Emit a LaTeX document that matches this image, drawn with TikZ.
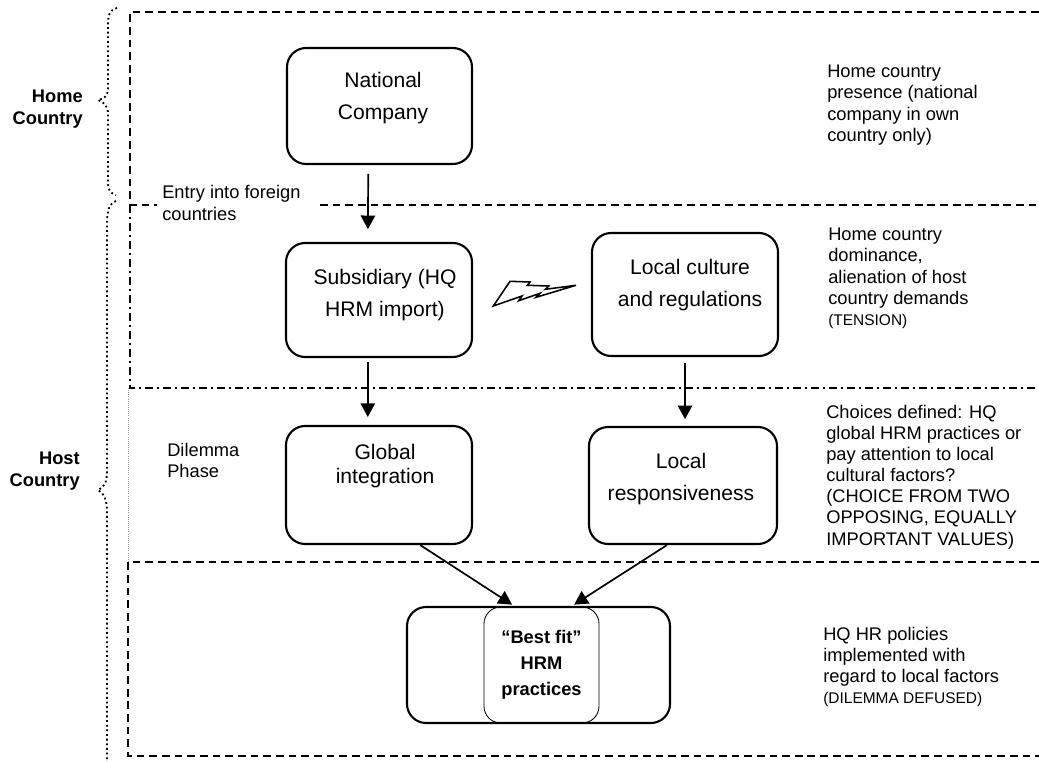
\documentclass[tikz,border=0pt]{standalone}
\usepackage{fontspec}
\setmainfont{Liberation Sans}
\usepackage{tikz}
\usetikzlibrary{arrows.meta,calc,positioning}
\definecolor{Ink}{HTML}{000000}
\definecolor{Faint}{HTML}{9A9A9A}
\tikzset{
  stagebox/.style={draw=Ink,line width=1.5pt,rounded corners=0.48cm,inner sep=0pt},
  stagetext/.style={align=center,inner sep=0pt,font=\fontsize{15}{22.5}\selectfont},
  sidenote/.style={anchor=north west,align=left,inner sep=0pt,font=\fontsize{13}{15}\selectfont},
  region/.style={anchor=north east,align=right,inner sep=0pt,font=\fontsize{13}{15.5}\selectfont\bfseries},
  flow/.style={draw=Ink,line width=1.2pt,-{Triangle[length=3.4mm,width=3.6mm]}},
  bandline/.style={line width=1.4pt,dash pattern=on 5.5pt off 3.5pt},
  bandchain/.style={line width=1.4pt,dash pattern=on 5.5pt off 2.8pt on 1.5pt off 3pt},
  brace/.style={line width=1.3pt,dotted},
}
\newcommand{\capsnote}[1]{{\fontsize{11}{15}\selectfont #1}}

\begin{document}
\begin{tikzpicture}[x=0.025cm,y=-0.025cm]
  \useasboundingbox (0,0) rectangle (1039,762);
  % bands
  \draw[bandline] (1039,12) -- (130,12) -- (130,205) -- (157,205);
  \draw[bandline] (320,205) -- (1039,205);
  \draw[bandchain] (130,205) -- (130,388) -- (1039,388);
  \draw[Faint,line width=0.5pt,densely dotted] (128,388) -- (128,562);
  \draw[bandline] (1039,562) -- (128,562) -- (128,756) -- (1039,756);
  % braces
  \draw[brace] (117,8) .. controls (109,10) and (108,16) .. (108,26) -- (108,88)
    .. controls (108,96) and (104,99) .. (98,100) .. controls (104,102) and (108,106) .. (108,114)
    -- (108,182) .. controls (108,190) and (110,193) .. (116,195);
  \draw[brace] (116,201) .. controls (109,204) and (107,210) .. (107,225) -- (107,472)
    .. controls (107,482) and (104,488) .. (98,490) .. controls (104,493) and (107,500) .. (107,512)
    -- (107,762);
  \node[region] (home) at (83,90) {Home\\Country};
  \node[region] (host) at (80,452) {Host\\Country};
  % stages
  \node[stagebox,minimum width=4.625cm,minimum height=2.9cm] (nat) at (379.5,106) {};
  \node[stagetext] (nat-t) at (383,98) {National\\Company};
  \node[stagebox,minimum width=4.65cm,minimum height=2.85cm] (sub) at (379,300) {};
  \node[stagetext] (sub-t) at (385,295) {Subsidiary (HQ\\HRM import)};
  \node[stagebox,minimum width=4.65cm,minimum height=3.075cm] (cul) at (685,294.5) {};
  \node[stagetext] (cul-t) at (690,285) {Local culture\\and regulations};
  \node[stagebox,minimum width=4.65cm,minimum height=2.95cm] (glo) at (379,485) {};
  \node[stagetext,font=\fontsize{15}{17.5}\selectfont] (glo-t) at (385,466) {Global\\integration};
  \node[stagebox,minimum width=4.7cm,minimum height=2.925cm] (res) at (683,485.5) {};
  \node[stagetext] (res-t) at (681,479) {Local\\responsiveness};
  \node[draw=Ink,line width=0.6pt,rounded corners=0.42cm,inner sep=0pt,minimum width=2.875cm,
    minimum height=2.9cm,align=center,font=\fontsize{13}{18.5}\selectfont\bfseries] (fit-in) at (541.5,665)
    {“Best fit”\\HRM\\practices};
  \node[stagebox,minimum width=6.575cm,minimum height=2.9cm] (fit) at (538.5,665) {};
  % tension
  \draw[line width=1.1pt,line join=miter] (510,281.3) -- (530,282) -- (527.3,285.3) -- (548.7,286)
    -- (545.3,289.3) -- (576,285.3) -- (536,297.3) -- (540,293.3) -- (518.7,300.7)
    -- (522,296) -- (493.3,306) -- cycle;
  % flow
  \draw[flow,shorten <=0.22cm,shorten >=0.32cm] ([xshift=-0.28cm]nat.south) -- ([xshift=-0.28cm]sub.north);
  \draw[flow,shorten <=0.1cm,shorten >=0.2cm] ([xshift=-0.28cm]sub.south) -- ([xshift=-0.28cm]glo.north);
  \draw[flow,shorten <=0.15cm,shorten >=0.17cm] (cul.south) -- (cul.south |- res.north);
  \draw[flow,shorten >=0.06cm] ([xshift=1.03cm]glo.south) -- ([xshift=-0.61cm]fit.north);
  \draw[flow,shorten >=0.06cm] ([xshift=-0.4cm]res.south) -- ([xshift=0.84cm]fit.north);
  % notes
  \node[sidenote,font=\fontsize{13}{15.5}\selectfont] (entry) at (162,185) {Entry into foreign\\countries};
  \node[sidenote] (dilemma) at (167,443) {Dilemma\\Phase};
  \node[sidenote] (home-note) at (827,65) {Home country\\presence (national\\company in own\\country only)};
  \node[sidenote] (tension-note) at (828,228) {Home country\\dominance,\\alienation of host\\country demands\\\capsnote{(TENSION)}};
  \node[sidenote] (choice-note) at (826,405) {Choices defined: HQ\\global HRM practices or\\pay attention to local\\cultural factors?\\(CHOICE FROM TWO\\OPPOSING, EQUALLY\\IMPORTANT VALUES)};
  \node[sidenote] (defuse-note) at (823,627) {HQ HR policies\\implemented with\\regard to local factors\\\capsnote{(DILEMMA DEFUSED)}};
\end{tikzpicture}
\end{document}
